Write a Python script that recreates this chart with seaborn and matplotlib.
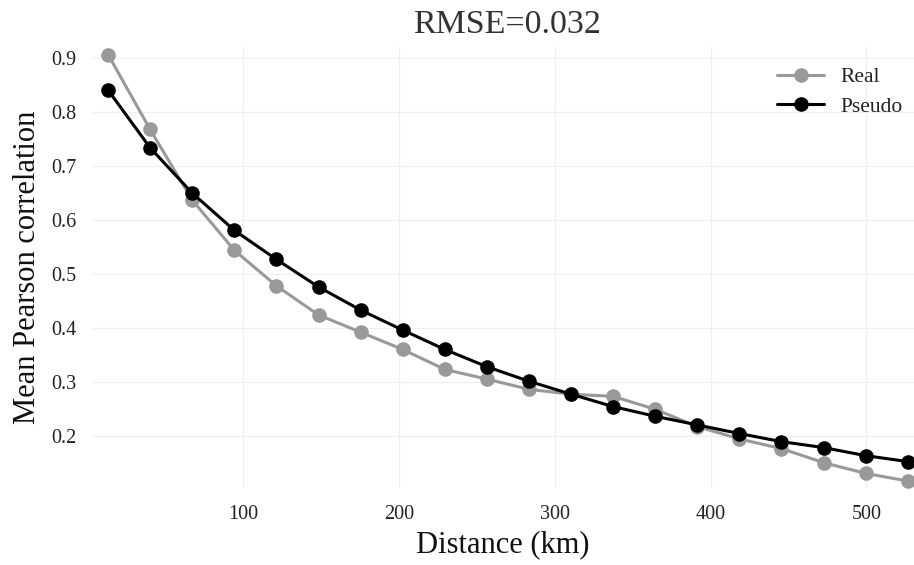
import numpy as np
import pandas as pd
import matplotlib
matplotlib.use("Agg")
import matplotlib.pyplot as plt
import seaborn as sns

distance_km = [13.5, 40.5, 67.5, 94.5, 121.5, 148.5, 175.5, 202.5, 229.5, 256.5,
               283.5, 310.5, 337.5, 364.5, 391.5, 418.5, 445.5, 472.5, 499.5, 526.5]
real_corr = [0.907, 0.768, 0.637, 0.544, 0.478, 0.424, 0.392, 0.360, 0.323, 0.305,
             0.286, 0.277, 0.273, 0.249, 0.217, 0.194, 0.176, 0.150, 0.130, 0.116]
pseudo_corr = [0.841, 0.734, 0.650, 0.581, 0.527, 0.476, 0.433, 0.396, 0.360, 0.328,
               0.301, 0.277, 0.254, 0.236, 0.220, 0.204, 0.189, 0.178, 0.163, 0.152]
series_names = ["Real", "Pseudo"]
series_colors = {"Real": "#999999", "Pseudo": "#000000"}
title_text = "RMSE=0.032"
x_label = "Distance (km)"
y_label = "Mean Pearson correlation"
x_ticks = [100, 200, 300, 400, 500]
y_ticks = [0.2, 0.3, 0.4, 0.5, 0.6, 0.7, 0.8, 0.9]

df = pd.DataFrame({
    "distance": distance_km * 2,
    "corr": real_corr + pseudo_corr,
    "type": ["Real"] * len(distance_km) + ["Pseudo"] * len(distance_km),
})

sns.set_theme(style="white")
plt.rcParams["font.family"] = ["Liberation Serif", "DejaVu Serif"]

W, H = 914, 565
fig = plt.figure(figsize=(W / 100, H / 100), dpi=100)
ax = fig.add_axes([92 / W, 1 - 488 / H, (W - 92) / W, (488 - 47) / H])

sns.lineplot(data=df, x="distance", y="corr", hue="type", hue_order=series_names,
             palette=series_colors, marker="o", markersize=10.5, markeredgewidth=0,
             linewidth=2.2, ax=ax, legend=True, sort=False)

ax.set_xlim(3.2, 530.5)
ax.set_ylim(0.103, 0.921)
ax.set_xticks(x_ticks)
ax.set_xticklabels([str(t) for t in x_ticks])
ax.set_yticks(y_ticks)
ax.set_yticklabels([f"{t:.1f}" for t in y_ticks])
ax.grid(True, color="#f0f0f0", linewidth=0.9)
ax.set_axisbelow(True)
for s in ax.spines.values():
    s.set_visible(False)
ax.tick_params(axis="both", length=0, labelsize=14.5, labelcolor="#222222")
ax.tick_params(axis="y", pad=11.5)
ax.tick_params(axis="x", pad=12)

ax.set_xlabel(x_label, fontsize=22, color="#111111", labelpad=5)
ax.set_ylabel(y_label, fontsize=22, color="#111111", labelpad=6)
ax.set_title(title_text, fontsize=24.5, color="#333333", pad=10, x=0.505)

handles, labels = ax.get_legend_handles_labels()
leg = ax.legend(handles, labels, loc="upper left",
                bbox_to_anchor=(777 / W, 1 - 67 / H), bbox_transform=fig.transFigure,
                frameon=False, fontsize=15.5, handlelength=2.2, handletextpad=0.73,
                labelspacing=0.45, borderpad=0, borderaxespad=0)
for t in leg.get_texts():
    t.set_color("#222222")

fig.savefig("out.png", dpi=100)
